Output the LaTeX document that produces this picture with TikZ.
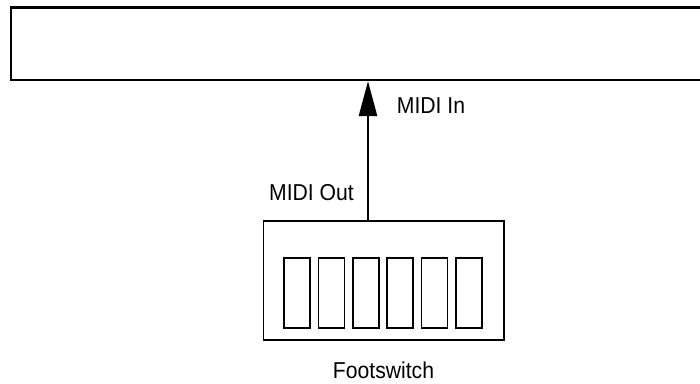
\documentclass[tikz,border=0pt]{standalone}
\usepackage{fontspec}
\newfontfamily\lblfont{Liberation Sans}[FakeStretch=0.92]
\usetikzlibrary{arrows.meta}
\tikzset{
  unitbox/.style={draw=black, line width=2.2pt, rectangle, inner sep=0pt},
  pedalbox/.style={draw=black, line width=1.7pt, rectangle, inner sep=0pt},
  switchkey/.style={draw=black, line width=1.7pt, rectangle, inner sep=0pt, minimum width=26pt, minimum height=70pt},
  lbl/.style={inner sep=0pt, font=\lblfont\fontsize{23}{27}\selectfont},
  midiarrow/.style={line width=2.6pt, -{Triangle[width=18pt,length=35pt]}}
}
\begin{document}
\begin{tikzpicture}[x=1pt,y=-1pt]
\useasboundingbox (0,0) rectangle (700,383);
\node[unitbox, minimum width=709pt, minimum height=72.5pt] (synth) at (365.5,43.75) {};
\node[pedalbox, minimum width=240.5pt, minimum height=119pt] (fs) at (383.75,280.5) {};
\foreach \i in {0,...,5} {
  \node[switchkey] (sw\i) at (297.3+\i*34.3,293) {};
}
\coordinate (ax) at (368,0);
\draw[midiarrow] (ax |- fs.north) -- (ax |- synth.south);
\node[lbl, anchor=base west] (inlbl) at (396.7,113.3) {MIDI In};
\node[lbl, anchor=base east] (outlbl) at (354,200) {MIDI Out};
\node[lbl, anchor=base] (fslbl) at (383.5,378.3) {Footswitch};
\end{tikzpicture}
\end{document}
